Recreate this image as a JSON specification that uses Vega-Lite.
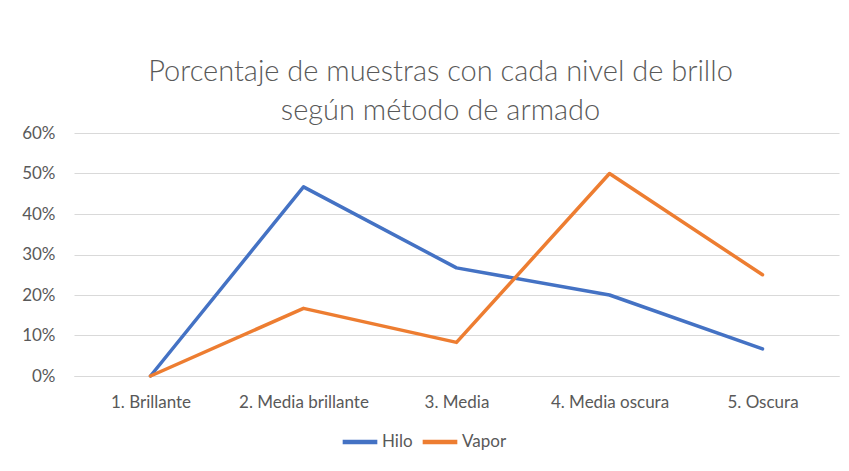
{
  "$schema": "https://vega.github.io/schema/vega-lite/v6.json",
  "autosize": "none",
  "width": 765,
  "height": 243,
  "padding": {"left": 74, "top": 133, "right": 10, "bottom": 95},
  "background": "white",
  "title": {
    "text": ["Porcentaje de muestras con cada nivel de brillo", "según método de armado"],
    "font": "Lato",
    "fontSize": 29,
    "fontWeight": 300,
    "color": "#595959",
    "anchor": "middle",
    "dx": -16,
    "offset": -2,
    "lineHeight": 39
  },
  "data": {
    "values": [
      {"nivel": "1. Brillante", "serie": "Hilo", "pct": 0},
      {"nivel": "2. Media brillante", "serie": "Hilo", "pct": 0.467},
      {"nivel": "3. Media", "serie": "Hilo", "pct": 0.267},
      {"nivel": "4. Media oscura", "serie": "Hilo", "pct": 0.2},
      {"nivel": "5. Oscura", "serie": "Hilo", "pct": 0.067},
      {"nivel": "1. Brillante", "serie": "Vapor", "pct": 0},
      {"nivel": "2. Media brillante", "serie": "Vapor", "pct": 0.167},
      {"nivel": "3. Media", "serie": "Vapor", "pct": 0.083},
      {"nivel": "4. Media oscura", "serie": "Vapor", "pct": 0.5},
      {"nivel": "5. Oscura", "serie": "Vapor", "pct": 0.25}
    ]
  },
  "mark": {"type": "line", "strokeWidth": 3.5, "strokeCap": "round", "strokeJoin": "round"},
  "encoding": {
    "x": {
      "field": "nivel",
      "type": "nominal",
      "sort": null,
      "scale": {"type": "point", "padding": 0.5},
      "axis": {
        "title": null,
        "labelAngle": 0,
        "labelFont": "Lato",
        "labelFontSize": 17,
        "labelFontWeight": 400,
        "labelColor": "#595959",
        "labelOverlap": false,
        "ticks": false,
        "domainColor": "#D9D9D9",
        "labelPadding": 18,
        "grid": false
      }
    },
    "y": {
      "field": "pct",
      "type": "quantitative",
      "scale": {"domain": [0, 0.6]},
      "axis": {
        "title": null,
        "format": ".0%",
        "values": [0, 0.1, 0.2, 0.3, 0.4, 0.5, 0.6],
        "labelFont": "Lato",
        "labelFontSize": 17,
        "labelFontWeight": 400,
        "labelColor": "#595959",
        "labelOverlap": false,
        "ticks": false,
        "domain": false,
        "labelPadding": 19,
        "gridColor": "#D9D9D9",
        "gridWidth": 1
      }
    },
    "color": {
      "field": "serie",
      "type": "nominal",
      "scale": {"domain": ["Hilo", "Vapor"], "range": ["#4472C4", "#ED7D31"]},
      "legend": {
        "title": null,
        "orient": "none",
        "direction": "horizontal",
        "legendX": 266,
        "legendY": 289,
        "symbolType": "stroke",
        "symbolStrokeWidth": 4.5,
        "symbolSize": 1200,
        "labelFont": "Lato",
        "labelFontSize": 17,
        "labelFontWeight": 400,
        "labelColor": "#595959",
        "columnPadding": 0,
        "labelOffset": 2
      }
    }
  },
  "config": {"view": {"stroke": null}}
}
